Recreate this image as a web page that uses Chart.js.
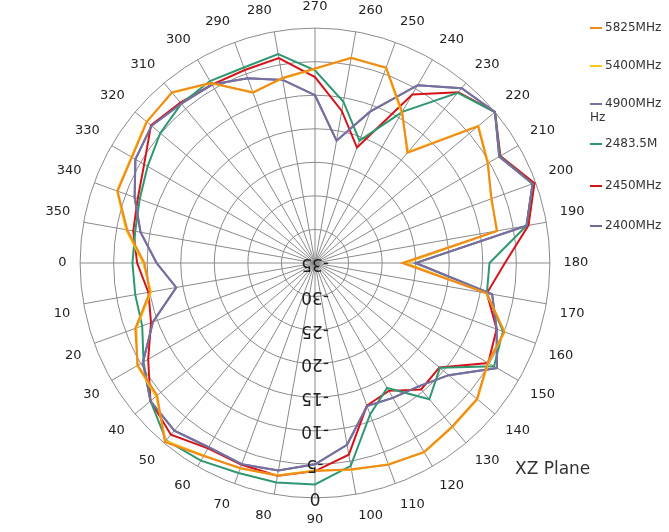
<!DOCTYPE html>
<html>
<head>
<meta charset="utf-8">
<script src="https://cdn.jsdelivr.net/npm/chart.js@4.4.0/dist/chart.umd.min.js"></script>
<style>
  body { margin: 0; background: #fff; font-family: "DejaVu Sans", sans-serif; }
  #wrap { position: relative; width: 669px; height: 532px; }
  #legend { position: absolute; left: 590px; top: 12px; font-size: 12px; color: #333; }
  .item { position: absolute; left: 0; white-space: nowrap; }
  .item i { display: inline-block; width: 12px; height: 2px; vertical-align: middle; margin-right: 3px; }
  #plane { position: absolute; left: 515px; top: 458px; font-size: 17px; color: #333; }
</style>
</head>
<body>
<div id="wrap">
  <canvas id="c" width="669" height="532"></canvas>
  <div id="legend"></div>
  <div id="plane">XZ Plane</div>
</div>
<script>
// angles 0..350 step 10
const angles = Array.from({ length: 36 }, (_, i) => i * 10);

const s5825 = [-9.6, -10, -6.5, -4.5, -4.3, -0.2, -1.8, -2.5, -2.8, -4, -3.8, -3, -2.5, -3.2, -3.5, -5.3, -5, -9,
  -22, -7.5, -7, -5.3, -3.3, -13.6, -9, -4, -4, -6, -7, -8, -4, -1.8, -2.3, -3.5, -3.7, -6.6];
const s5400 = [-9.4, -10.2, -6.7, -4.4, -4.1, -0.4, -1.9, -2.4, -2.9, -4.1, -3.7, -3.1, -2.4, -3.1, -3.4, -5.2, -4.9, -9.1,
  -21.5, -7.4, -7.1, -5.2, -3.2, -13.4, -9.2, -4.1, -3.9, -6.1, -7.1, -7.9, -4.1, -1.9, -2.2, -3.4, -3.6, -6.4];
const s4900 = [-11.4, -14, -9.3, -5.4, -3, -2.4, -3.3, -3.1, -3.6, -5, -7.5, -12.3, -11.8, -11, -9, -3.7, -6.2, -8.2,
  -20, -3, -0.5, -3.3, 0, -1, -4.4, -11, -16.5, -10, -7.3, -5.7, -4.3, -4, -3.2, -4.1, -6.4, -8.6];
const s2483 = [-7.8, -7.8, -7.6, -5.5, -3, -0.5, -1, -1.7, -1.8, -2, -4.3, -11, -13.5, -8.5, -10.7, -4.2, -5.2, -9,
  -9, -3, -0.5, -3.2, 0, -1.9, -9, -15.6, -10.6, -6.3, -3.4, -4, -3.7, -4, -4.9, -6.2, -7.2, -7.8];
const s2450 = [-8.5, -9.8, -9, -6.3, -3, -1.6, -3.1, -3, -2.8, -4, -6, -12.4, -13, -10.4, -10.8, -5.2, -6.2, -9,
  -6.7, -2.7, -0.2, -3.1, 0, -1.8, -6, -16.7, -12, -7.3, -4, -4.4, -4.3, -3.8, -3.1, -5.6, -6.9, -7.5];
const s2400 = [-11.4, -14, -9.3, -5.4, -3, -2.4, -3.3, -3.1, -3.6, -5, -7.5, -12.3, -11.8, -11, -9, -3.7, -6.2, -8.2,
  -20, -3, -0.5, -3.3, 0, -1, -4.4, -11, -16.5, -10, -7.3, -5.7, -4.3, -4, -3.2, -4.1, -6.4, -8.6];

const radialTicks = { min: -35, max: 0, step: 5 };

// screen order: bottom (90) first, then clockwise: 80 .. 0, 350 .. 100
const order = [];
for (let k = 0; k < 36; k++) order.push(((90 - k * 10) % 360 + 360) % 360);
const idx = order.map(a => angles.indexOf(a));
const pick = arr => idx.map(i => arr[i]);

const series = [
  { label: "5825MHz", data: s5825, color: "#ef8a1e", top: 8 },
  { label: "5400MHz", data: s5400, color: "#f4c617", top: 46 },
  { label: "4900MHz", data: s4900, color: "#77709f", top: 84, extra: "Hz" },
  { label: "2483.5M", data: s2483, color: "#2f9870", top: 124 },
  { label: "2450MHz", data: s2450, color: "#d3151b", top: 166 },
  { label: "2400MHz", data: s2400, color: "#6c6b98", top: 206 }
];

const legend = document.getElementById("legend");
series.forEach(s => {
  const d = document.createElement("div");
  d.className = "item";
  d.style.top = s.top + "px";
  d.innerHTML = '<i style="background:' + s.color + '"></i>' + s.label + (s.extra ? "<br>" + s.extra : "");
  legend.appendChild(d);
});

new Chart(document.getElementById("c"), {
  type: "radar",
  data: {
    labels: order.map(String),
    datasets: series.map(s => ({
      label: s.label,
      data: pick(s.data),
      borderColor: s.color,
      backgroundColor: "transparent",
      borderWidth: 2,
      pointRadius: 0,
      fill: false,
      tension: 0
    }))
  },
  options: {
    responsive: false,
    animation: false,
    layout: { padding: { left: 0, right: 39, top: 0, bottom: 4 } },
    plugins: { legend: { display: false }, tooltip: { enabled: false } },
    scales: {
      r: {
        min: radialTicks.min,
        max: radialTicks.max,
        startAngle: 180,
        ticks: { stepSize: radialTicks.step, showLabelBackdrop: false, color: "#222", font: { size: 17, family: "DejaVu Sans" }, z: 1 },
        grid: { circular: true, color: "#8a8a8a", lineWidth: 1 },
        angleLines: { color: "#8a8a8a" },
        pointLabels: { color: "#222", font: { size: 13, family: "DejaVu Sans" }, padding: 3 }
      }
    }
  }
});
</script>
</body>
</html>
